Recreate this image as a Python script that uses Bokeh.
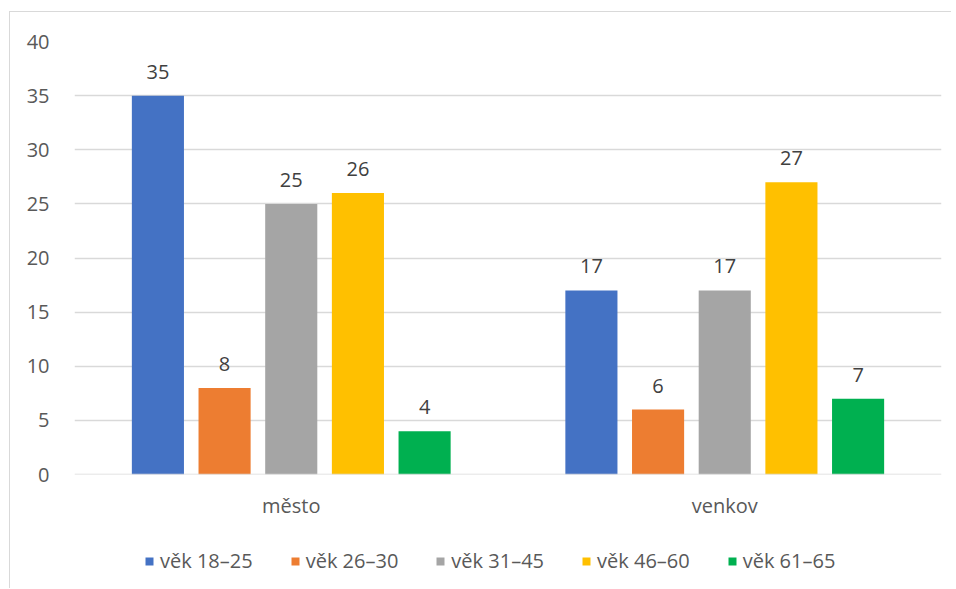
from bokeh.plotting import figure
from bokeh.layouts import column
from bokeh.models import Range1d, FixedTicker, Legend, LegendItem, ColumnDataSource, Span
from bokeh.embed import file_html
from bokeh.resources import INLINE
from bokeh.core.properties import value

categories = ["město", "venkov"]
series = ["věk 18–25", "věk 26–30", "věk 31–45", "věk 46–60", "věk 61–65"]
values = {
    "věk 18–25": [35, 17],
    "věk 26–30": [8, 6],
    "věk 31–45": [25, 17],
    "věk 46–60": [26, 27],
    "věk 61–65": [4, 7],
}
colors = ["#4472C4", "#ED7D31", "#A5A5A5", "#FFC000", "#00B050"]
y_ticks = [0, 5, 10, 15, 20, 25, 30, 35, 40]

FONT = "Open Sans"
FS = "20px"

p = figure(width=941, height=509, output_backend="svg", toolbar_location=None,
           x_range=Range1d(0, len(categories)), y_range=Range1d(0, 40),
           min_border_left=64, min_border_right=10, min_border_top=29, min_border_bottom=47)
p.outline_line_color = None
p.background_fill_color = "white"
p.border_fill_color = "white"

p.xgrid.grid_line_color = None
p.ygrid.grid_line_color = "#d9d9d9"
p.ygrid.grid_line_width = 1.3
p.ygrid.ticker = FixedTicker(ticks=y_ticks)
p.add_layout(Span(location=0, dimension="width", line_color="#d9d9d9", line_width=1.3))

p.yaxis.ticker = FixedTicker(ticks=y_ticks)
p.yaxis.axis_line_color = None
p.yaxis.major_tick_line_color = None
p.yaxis.minor_tick_line_color = None
p.yaxis.major_label_text_font = FONT
p.yaxis.major_label_text_font_size = FS
p.yaxis.major_label_text_color = "#595959"
p.yaxis.major_label_standoff = 19

cat_x = [i + 0.5 for i in range(len(categories))]
p.xaxis.ticker = FixedTicker(ticks=cat_x)
p.xaxis.major_label_overrides = {c: lab for c, lab in zip(cat_x, categories)}
p.xaxis.axis_line_color = None
p.xaxis.major_tick_line_color = None
p.xaxis.minor_tick_line_color = None
p.xaxis.major_label_text_font = FONT
p.xaxis.major_label_text_font_size = FS
p.xaxis.major_label_text_color = "#595959"
p.xaxis.major_label_standoff = 11

step = 0.1538
bw = 0.1202
for i, (s, col) in enumerate(zip(series, colors)):
    xs = [c + (i - 2) * step for c in cat_x]
    src = ColumnDataSource(dict(x=xs, top=values[s], lab=[str(v) for v in values[s]]))
    p.vbar(x="x", top="top", bottom=0, width=bw, source=src, fill_color=col, line_color=None)
    p.text(x="x", y="top", text="lab", source=src, text_font=value(FONT), text_font_size=FS,
           text_color="#404040", text_align="center", text_baseline="bottom", y_offset=-17)

# legend in its own strip below the chart (swatch renderers have zero size)
lg = figure(width=941, height=67, output_backend="svg", toolbar_location=None,
            x_range=Range1d(0, 1), y_range=Range1d(0, 1),
            min_border_left=0, min_border_right=0, min_border_top=0, min_border_bottom=0,
            x_axis_location=None, y_axis_location=None)
lg.outline_line_color = None
lg.grid.visible = False
items = []
for s, col in zip(series, colors):
    r = lg.vbar(x=[0.5], top=[0], bottom=[0], width=0, fill_color=col, line_color=None)
    items.append(LegendItem(label=s, renderers=[r]))
legend = Legend(items=items, orientation="horizontal", location=(70, 14),
                glyph_width=10, glyph_height=10, label_standoff=6, spacing=37,
                padding=0, margin=0, border_line_color=None, background_fill_alpha=0,
                label_text_font=FONT, label_text_font_size=FS, label_text_color="#595959")
lg.add_layout(legend, "center")

layout = column(p, lg, spacing=0, margin=(11, 0, 0, 9))
layout.styles = {"border-left": "1px solid #d9d9d9", "border-top": "1px solid #d9d9d9"}
open("out.html", "w").write(file_html(layout, INLINE))
